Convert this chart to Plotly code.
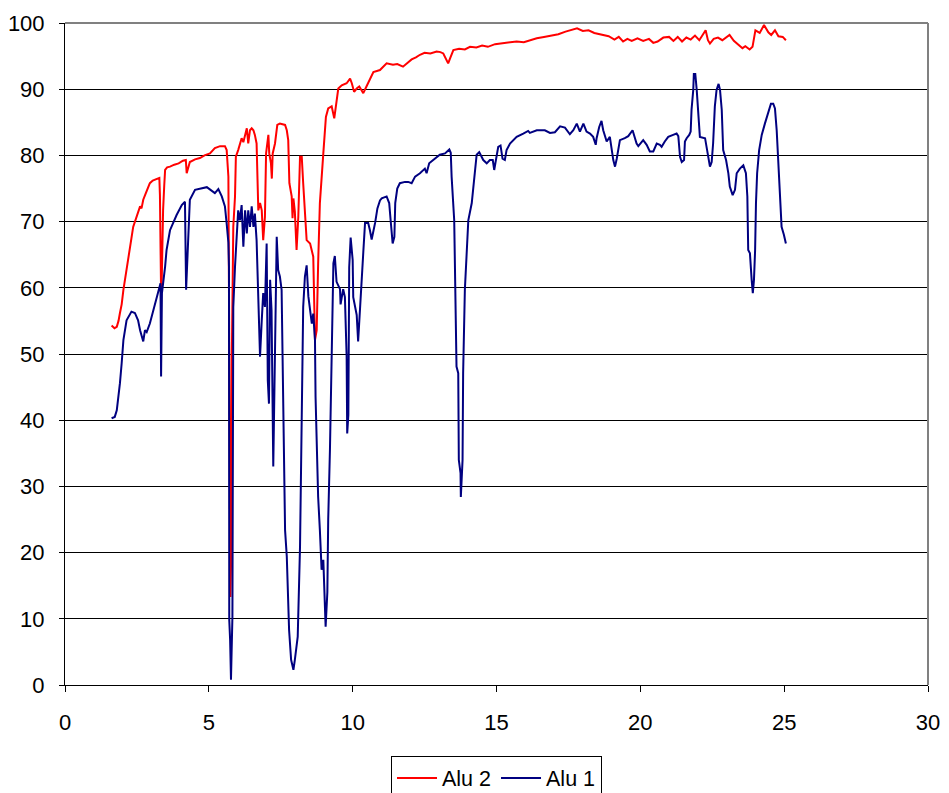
import plotly.graph_objects as go

# Alu 2 (red)
alu2_x = [1.62, 1.72, 1.80, 1.86, 1.91, 1.97, 2.03, 2.08, 2.14, 2.20, 2.26, 2.31, 2.37, 2.43, 2.49,
          2.55, 2.61, 2.66, 2.72, 2.80, 2.88, 2.95, 3.05, 3.19, 3.28, 3.30, 3.32, 3.34, 3.36, 3.38,
          3.41, 3.45, 3.48, 3.55, 3.65, 3.80, 3.95, 4.10, 4.20, 4.23, 4.27, 4.34, 4.52, 4.69, 4.85,
          5.04, 5.21, 5.39, 5.56, 5.62, 5.68, 5.71, 5.73, 5.75, 5.78, 5.80, 5.85, 5.91, 5.94, 6.02,
          6.08, 6.14, 6.20, 6.26, 6.32, 6.37, 6.43, 6.49, 6.55, 6.60, 6.66, 6.72, 6.78, 6.84, 6.89,
          6.95, 6.99, 7.07, 7.10, 7.16, 7.19, 7.22, 7.30, 7.38, 7.47, 7.65, 7.71, 7.76, 7.80, 7.88,
          7.91, 7.94, 7.99, 8.05, 8.11, 8.17, 8.23, 8.28, 8.34, 8.40, 8.52, 8.63, 8.69, 8.75, 8.80,
          8.86, 8.98, 9.07, 9.15, 9.27, 9.36, 9.44, 9.50, 9.62, 9.79, 9.91, 9.97, 10.05, 10.14, 10.23,
          10.37, 10.48, 10.72, 10.95, 11.18, 11.40, 11.55, 11.75, 11.90, 12.05, 12.20, 12.34, 12.50, 12.70, 12.92,
          13.05, 13.15, 13.25, 13.32, 13.40, 13.50, 13.70, 13.90, 14.08, 14.30, 14.50, 14.70, 14.95, 15.20, 15.45,
          15.70, 15.95, 16.20, 16.40, 16.65, 16.90, 17.15, 17.40, 17.60, 17.80, 18.00, 18.20, 18.40, 18.70, 18.90,
          19.10, 19.25, 19.40, 19.55, 19.70, 19.90, 20.10, 20.30, 20.45, 20.60, 20.80, 21.00, 21.15, 21.30, 21.45,
          21.60, 21.75, 21.90, 22.05, 22.20, 22.27, 22.35, 22.42, 22.55, 22.70, 22.85, 23.00, 23.10, 23.25, 23.40,
          23.55, 23.65, 23.80, 23.90, 24.00, 24.15, 24.30, 24.45, 24.55, 24.68, 24.80, 24.95, 25.06]
alu2_y = [54.3, 53.9, 54.1, 55.0, 56.2, 57.5, 59.7, 61.0, 62.7, 64.0, 65.7, 67.5, 69.2, 70.0, 70.7,
          71.8, 72.3, 72.0, 73.3, 74.2, 75.0, 75.8, 76.2, 76.5, 76.6, 74.0, 66.0, 59.2, 60.5, 66.0,
          71.7, 75.5, 77.8, 78.2, 78.3, 78.6, 78.8, 79.2, 79.3, 77.3, 77.8, 79.0, 79.4, 79.6, 80.0,
          80.3, 81.1, 81.4, 81.4, 80.8, 76.8, 60.0, 35.0, 13.3, 20.0, 50.0, 69.2, 73.8, 79.8, 80.8,
          81.8, 82.6, 82.0, 83.3, 84.1, 81.8, 83.8, 84.1, 83.8, 83.1, 81.8, 71.7, 72.8, 71.7, 67.2,
          70.7, 80.3, 83.1, 80.3, 78.8, 76.5, 80.3, 81.8, 84.6, 84.8, 84.6, 83.8, 82.3, 75.8, 73.8,
          70.5, 73.5, 71.5, 65.7, 70.7, 79.8, 79.8, 75.8, 71.7, 67.2, 66.7, 64.7, 52.1, 53.6, 63.7,
          72.8, 80.3, 85.8, 87.1, 87.4, 85.6, 87.9, 90.1, 90.6, 90.9, 91.6, 90.9, 89.6, 90.1, 90.4,
          89.4, 90.4, 92.6, 92.9, 93.9, 93.7, 93.8, 93.4, 94.0, 94.5, 94.8, 95.2, 95.5, 95.4, 95.7,
          95.6, 95.4, 94.6, 93.9, 94.8, 95.9, 96.1, 96.0, 96.4, 96.3, 96.6, 96.4, 96.8, 96.9, 97.0,
          97.2, 97.1, 97.5, 97.7, 97.9, 98.1, 98.3, 98.7, 98.9, 99.2, 98.8, 98.9, 98.5, 98.2, 98.0,
          97.5, 97.9, 97.2, 97.6, 97.3, 97.7, 97.3, 97.6, 97.0, 97.2, 97.8, 97.9, 97.3, 97.9, 97.2,
          97.8, 97.5, 98.1, 97.4, 98.4, 98.9, 97.4, 96.9, 97.6, 97.8, 97.4, 97.9, 98.2, 97.3, 96.8,
          96.2, 96.5, 96.0, 96.4, 98.9, 98.5, 99.7, 98.6, 98.2, 98.9, 98.0, 97.9, 97.4]

# Alu 1 (navy)
alu1_x = [1.62, 1.73, 1.80, 1.86, 1.91, 1.97, 2.03, 2.14, 2.31, 2.43, 2.54, 2.61, 2.66, 2.72, 2.78,
          2.84, 2.95, 3.07, 3.19, 3.28, 3.32, 3.34, 3.37, 3.48, 3.53, 3.65, 3.88, 4.06, 4.17, 4.21,
          4.26, 4.34, 4.52, 4.93, 5.21, 5.33, 5.45, 5.56, 5.62, 5.68, 5.70, 5.71, 5.74, 5.77, 5.82,
          5.85, 5.91, 5.97, 6.02, 6.08, 6.14, 6.20, 6.26, 6.32, 6.37, 6.43, 6.49, 6.55, 6.60, 6.66,
          6.70, 6.74, 6.78, 6.84, 6.89, 6.95, 7.01, 7.05, 7.09, 7.13, 7.18, 7.24, 7.30, 7.36, 7.41,
          7.47, 7.53, 7.59, 7.65, 7.71, 7.79, 7.86, 7.94, 7.99, 8.09, 8.17, 8.23, 8.28, 8.34, 8.40,
          8.46, 8.58, 8.63, 8.69, 8.71, 8.80, 8.86, 8.92, 8.98, 9.06, 9.12, 9.15, 9.21, 9.27, 9.31,
          9.33, 9.38, 9.44, 9.56, 9.58, 9.67, 9.73, 9.79, 9.81, 9.85, 9.88, 9.93, 10.00, 10.02, 10.14,
          10.19, 10.25, 10.31, 10.37, 10.43, 10.54, 10.60, 10.66, 10.78, 10.86, 10.95, 11.01, 11.18, 11.27, 11.32,
          11.39, 11.45, 11.48, 11.55, 11.64, 11.82, 11.93, 12.05, 12.17, 12.34, 12.51, 12.57, 12.66, 12.80, 13.03,
          13.21, 13.36, 13.41, 13.44, 13.53, 13.58, 13.61, 13.67, 13.69, 13.75, 13.76, 13.82, 13.84, 13.90, 13.96,
          14.02, 14.14, 14.25, 14.31, 14.40, 14.54, 14.66, 14.77, 14.87, 14.92, 14.98, 15.06, 15.14, 15.21, 15.29,
          15.35, 15.47, 15.70, 15.93, 16.10, 16.16, 16.40, 16.68, 16.86, 17.03, 17.21, 17.38, 17.55, 17.67, 17.79,
          17.90, 18.02, 18.13, 18.25, 18.36, 18.45, 18.48, 18.57, 18.65, 18.71, 18.83, 18.94, 19.06, 19.12, 19.18,
          19.29, 19.46, 19.58, 19.73, 19.87, 19.93, 20.10, 20.22, 20.33, 20.45, 20.57, 20.68, 20.74, 20.85, 20.97,
          21.14, 21.26, 21.32, 21.38, 21.44, 21.52, 21.55, 21.61, 21.70, 21.75, 21.78, 21.84, 21.86, 21.91, 21.96,
          22.01, 22.07, 22.25, 22.30, 22.36, 22.42, 22.48, 22.53, 22.59, 22.65, 22.72, 22.77, 22.83, 22.88, 22.98,
          23.06, 23.11, 23.21, 23.29, 23.35, 23.46, 23.58, 23.67, 23.72, 23.75, 23.81, 23.87, 23.91, 23.95, 23.99,
          24.02, 24.06, 24.13, 24.22, 24.33, 24.45, 24.54, 24.62, 24.68, 24.74, 24.80, 24.85, 24.91, 24.99, 25.06]
alu1_y = [40.3, 40.5, 41.5, 43.5, 45.6, 48.6, 52.1, 55.1, 56.4, 56.2, 55.1, 53.6, 52.6, 51.9, 53.6,
          53.3, 54.6, 56.6, 58.2, 59.7, 60.7, 46.6, 59.2, 63.2, 65.7, 68.7, 71.0, 72.5, 73.0, 59.7,
          65.7, 73.3, 74.8, 75.2, 74.3, 74.9, 73.8, 72.3, 69.7, 66.8, 63.2, 9.8, 6.8, 0.8, 10.3,
          57.1, 63.2, 68.7, 71.7, 70.2, 72.5, 66.2, 71.7, 68.2, 71.7, 69.2, 72.3, 69.2, 71.2, 67.2,
          62.2, 57.1, 49.6, 55.1, 59.2, 57.1, 66.7, 46.0, 42.5, 61.2, 56.6, 33.0, 55.1, 67.7, 62.7,
          61.7, 59.7, 41.0, 23.4, 19.4, 8.3, 3.8, 2.3, 3.8, 7.3, 20.9, 45.1, 57.1, 61.7, 63.4,
          58.7, 54.6, 56.1, 52.1, 43.5, 28.4, 23.4, 17.4, 18.9, 8.8, 14.0, 25.0, 35.5, 50.0, 58.0,
          63.7, 64.8, 60.9, 59.8, 57.5, 59.8, 58.6, 49.7, 38.0, 40.8, 63.1, 67.6, 64.2, 58.6, 55.9,
          51.9, 55.9, 59.8, 65.4, 69.8, 69.8, 68.7, 67.3, 69.8, 72.0, 73.2, 73.5, 73.8, 72.8, 70.2,
          66.7, 67.7, 72.8, 75.0, 75.8, 76.0, 76.0, 75.8, 76.8, 77.3, 78.0, 77.3, 78.8, 79.3, 80.1,
          80.3, 80.9, 80.4, 76.8, 70.2, 59.2, 48.1, 47.1, 34.0, 32.0, 28.4, 34.0, 47.1, 59.7, 65.7,
          70.2, 72.8, 77.3, 80.1, 80.5, 79.3, 78.8, 79.3, 79.3, 77.8, 79.3, 81.3, 81.5, 79.5, 79.3,
          80.8, 81.8, 82.8, 83.3, 83.7, 83.4, 83.8, 83.8, 83.4, 83.5, 84.4, 84.2, 83.2, 83.8, 84.8,
          83.6, 84.8, 83.6, 83.3, 82.8, 81.6, 82.6, 84.3, 85.2, 83.8, 82.1, 82.8, 79.3, 78.3, 79.5,
          82.3, 82.6, 82.9, 83.8, 81.8, 81.4, 82.3, 81.6, 80.6, 80.6, 81.8, 81.6, 81.3, 82.1, 82.8,
          83.1, 83.3, 82.9, 79.8, 79.0, 79.3, 82.1, 82.6, 83.1, 83.6, 86.9, 89.9, 92.3, 92.3, 89.9,
          86.9, 82.8, 82.6, 81.3, 79.8, 78.3, 79.0, 81.8, 87.4, 89.9, 90.8, 89.9, 86.9, 80.8, 79.3,
          77.3, 75.3, 74.0, 74.8, 77.3, 78.0, 78.5, 77.3, 73.8, 65.7, 65.2, 61.2, 59.2, 61.2, 65.7,
          72.8, 77.3, 80.8, 83.1, 84.8, 86.6, 87.8, 87.8, 87.1, 83.8, 78.3, 74.3, 69.2, 68.0, 66.7]

x_ticks = [0, 5, 10, 15, 20, 25, 30]
y_ticks = [0, 10, 20, 30, 40, 50, 60, 70, 80, 90, 100]

fig = go.Figure()
fig.add_trace(go.Scatter(x=alu2_x, y=alu2_y, mode="lines", name="Alu 2",
                         line=dict(color="#FF0000", width=2)))
fig.add_trace(go.Scatter(x=alu1_x, y=alu1_y, mode="lines", name="Alu 1",
                         line=dict(color="#000080", width=2)))

font = dict(family="Liberation Sans, Arial, sans-serif", size=22, color="black")
legend_font = dict(family="Liberation Sans, Arial, sans-serif", size=21.5, color="black")

fig.update_layout(
    width=949, height=793,
    margin=dict(l=65, r=21, t=23, b=108, autoexpand=False),
    paper_bgcolor="white", plot_bgcolor="white",
    font=font,
    showlegend=True,
    legend=dict(orientation="h", x=0.5, xanchor="center", y=-0.108, yanchor="top",
                bordercolor="black", borderwidth=1, bgcolor="white",
                font=legend_font, itemwidth=40, tracegroupgap=0),
    xaxis=dict(range=[0, 30], tickvals=x_ticks, showgrid=False, zeroline=False,
               showline=True, linecolor="black", linewidth=1,
               ticks="outside", ticklen=6, tickcolor="black", ticklabelstandoff=12),
    yaxis=dict(range=[0, 100], tickvals=y_ticks, showgrid=True, gridcolor="black", gridwidth=1,
               zeroline=False, showline=True, linecolor="black", linewidth=1,
               ticks="outside", ticklen=5, tickcolor="black", ticklabelstandoff=10),
    shapes=[
        dict(type="line", xref="paper", yref="paper", x0=0, x1=1, y0=1, y1=1,
             line=dict(color="#808080", width=2), layer="above"),
        dict(type="line", xref="paper", yref="paper", x0=1, x1=1, y0=0, y1=1,
             line=dict(color="#808080", width=2), layer="above"),
    ],
)

fig.write_html("out.html")
